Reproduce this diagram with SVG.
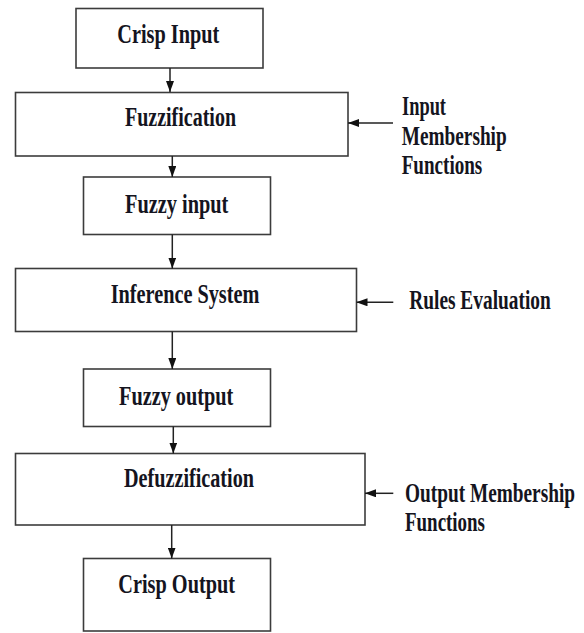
<svg xmlns="http://www.w3.org/2000/svg" width="584" height="633" viewBox="0 0 584 633">
<defs>
<style>
.box{fill:#fff;stroke:#3c3c3c;stroke-width:1.6}
.lbl{font-family:"Liberation Serif","Times New Roman","DejaVu Serif",serif;font-weight:bold;font-size:19.4px;fill:#141420}
.conn{stroke:#222;stroke-width:1.5;fill:none;marker-end:url(#ah)}
</style>
<marker id="ah" markerUnits="userSpaceOnUse" markerWidth="11" markerHeight="8" viewBox="0 0 11 8" refX="11" refY="4" orient="auto">
<path d="M0,0 L11,4 L0,8 z" fill="#111"/>
</marker>
</defs>
<rect width="584" height="633" fill="#fff"/>
<g id="crisp-input"><rect class="box" x="76" y="8.5" width="187" height="59.5"/><text class="lbl" transform="translate(117.3,42.7) scale(1,1.36)" textLength="102" lengthAdjust="spacingAndGlyphs">Crisp Input</text></g>
<g id="fuzzification"><rect class="box" x="15.5" y="92.5" width="332.5" height="63.5"/><text class="lbl" transform="translate(125,126) scale(1,1.36)" textLength="111" lengthAdjust="spacingAndGlyphs">Fuzzification</text></g>
<g id="fuzzy-input"><rect class="box" x="83.5" y="177" width="187" height="57.5"/><text class="lbl" transform="translate(125,212.7) scale(1,1.36)" textLength="103.3" lengthAdjust="spacingAndGlyphs">Fuzzy input</text></g>
<g id="inference"><rect class="box" x="15.5" y="268.5" width="341" height="63"/><text class="lbl" transform="translate(110.7,303.3) scale(1,1.36)" textLength="148.6" lengthAdjust="spacingAndGlyphs">Inference System</text></g>
<g id="fuzzy-output"><rect class="box" x="83.5" y="369" width="187" height="57.5"/><text class="lbl" transform="translate(119,405) scale(1,1.36)" textLength="114.3" lengthAdjust="spacingAndGlyphs">Fuzzy output</text></g>
<g id="defuzzification"><rect class="box" x="15.5" y="453.5" width="349.5" height="71.5"/><text class="lbl" transform="translate(124,486.7) scale(1,1.36)" textLength="130" lengthAdjust="spacingAndGlyphs">Defuzzification</text></g>
<g id="crisp-output"><rect class="box" x="83.5" y="558.5" width="187" height="72.5"/><text class="lbl" transform="translate(118.3,593.3) scale(1,1.36)" textLength="116.7" lengthAdjust="spacingAndGlyphs">Crisp Output</text></g>
<g id="input-mf"><text class="lbl" transform="translate(402,115) scale(1,1.36)" textLength="44" lengthAdjust="spacingAndGlyphs">Input</text><text class="lbl" transform="translate(401.7,145) scale(1,1.36)" textLength="105" lengthAdjust="spacingAndGlyphs">Membership</text><text class="lbl" transform="translate(401.7,174) scale(1,1.36)" textLength="80.6" lengthAdjust="spacingAndGlyphs">Functions</text></g>
<g id="rules-eval"><text class="lbl" transform="translate(409.3,309.3) scale(1,1.36)" textLength="141.4" lengthAdjust="spacingAndGlyphs">Rules Evaluation</text></g>
<g id="output-mf"><text class="lbl" transform="translate(405,501.7) scale(1,1.36)" textLength="170" lengthAdjust="spacingAndGlyphs">Output Membership</text><text class="lbl" transform="translate(405,530.7) scale(1,1.36)" textLength="80" lengthAdjust="spacingAndGlyphs">Functions</text></g>
<g id="connectors">
<line class="conn" x1="170" y1="68" x2="170" y2="92"/>
<line class="conn" x1="172.3" y1="156" x2="172.3" y2="177"/>
<line class="conn" x1="172.3" y1="234.5" x2="172.3" y2="268.5"/>
<line class="conn" x1="172.3" y1="331.5" x2="172.3" y2="369"/>
<line class="conn" x1="173.3" y1="426.5" x2="173.3" y2="453.5"/>
<line class="conn" x1="171.7" y1="525" x2="171.7" y2="558.5"/>
<line class="conn" x1="393" y1="123" x2="348" y2="123"/>
<line class="conn" x1="393.3" y1="302.3" x2="356.5" y2="302.3"/>
<line class="conn" x1="393.3" y1="493.3" x2="365" y2="493.3"/>
</g>
</svg>
